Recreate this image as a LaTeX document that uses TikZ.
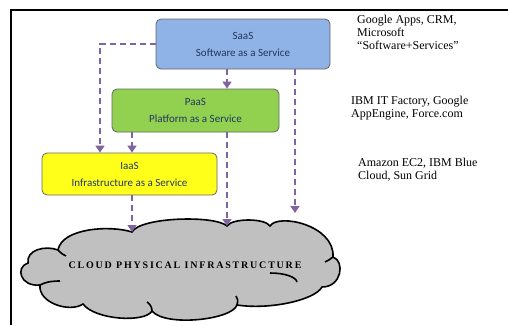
\documentclass[tikz,border=0pt]{standalone}
\usepackage{fontspec}
\setmainfont{Liberation Serif}
\newfontfamily\boxfont{Carlito}
\newfontfamily\cloudfont{Liberation Serif}[LetterSpace=18]
\usetikzlibrary{arrows.meta,calc}
\definecolor{saasblue}{HTML}{8FB3E6}
\definecolor{paasgreen}{HTML}{92D050}
\definecolor{iaasyellow}{HTML}{FFFF1A}
\definecolor{arrpurple}{HTML}{8064A2}
\definecolor{boxtext}{HTML}{24365F}
\definecolor{cloudgray}{HTML}{C0C0C0}
\begin{document}
\begin{tikzpicture}[x=1pt,y=1pt,
  layerbox/.style={draw=black!60, line width=0.8pt, rounded corners=5pt,
    align=center, font=\boxfont\fontsize{11}{17}\selectfont, text=boxtext, inner sep=0pt},
  arr/.style={draw=arrpurple, line width=1.6pt, dash pattern=on 6pt off 4pt,
    -{Triangle[width=9pt,length=7pt]}},
  sidetext/.style={anchor=north west, align=left, inner sep=0pt,
    font=\fontsize{12}{13}\selectfont},
  cloudline/.style={line width=1.6pt}
]
\useasboundingbox (0,0) rectangle (508,325);
% frame
\draw[line width=2pt] (508,315) -- (11,315) -- (11,0);

% boxes
\node[layerbox, fill=saasblue, minimum width=174pt, minimum height=50pt] (saas) at (243,281) {SaaS\\Software as a Service};
\node[layerbox, fill=paasgreen, minimum width=167pt, minimum height=43pt] (paas) at (195.5,214.5) {PaaS\\Platform as a Service};
\node[layerbox, fill=iaasyellow, minimum width=175pt, minimum height=42pt] (iaas) at (129.5,151) {IaaS\\Infrastructure as a Service};

% cloud
\coordinate (c1) at (58,75);
\coordinate (c2) at (132,93);
\coordinate (c3) at (227,99);
\coordinate (c4) at (270,99);
\coordinate (c5) at (333,68);
\coordinate (c6) at (322,38);
\coordinate (c7) at (237,20);
\coordinate (c8) at (152,14);
\coordinate (c9) at (83,21);
\coordinate (c10) at (40,40);
\coordinate (c11) at (28,62);
\draw[cloudline, fill=cloudgray]
  (c1) .. controls (62,97) and (110,100) .. (c2)
  .. controls (140,108) and (215,110) .. (c3)
  .. controls (232,107) and (265,107) .. (c4)
  .. controls (278,112) and (335,100) .. (c5)
  .. controls (345,64) and (342,38) .. (c6)
  .. controls (315,25) and (270,15) .. (c7)
  .. controls (232,5) and (165,-2) .. (c8)
  .. controls (145,2) and (95,5) .. (c9)
  .. controls (70,12) and (38,22) .. (c10)
  .. controls (20,38) and (15,58) .. (c11)
  .. controls (26,75) and (45,80) .. (c1) -- cycle;
\draw[cloudline] (c10) .. controls (48,44) and (55,44) .. (60,44);
\draw[cloudline] (c1) .. controls (61,72) and (63,70) .. (66,69);
\draw[cloudline] (270,52) .. controls (285,52) and (296,48) .. (297,43);
\draw[cloudline] (c8) .. controls (152,18) and (150,21) .. (147,23);
\draw[cloudline] (c7) .. controls (238,24) and (238,27) .. (236,29);
\draw[cloudline] (c5) .. controls (330,66) and (328,64) .. (325,63);
\node[font=\cloudfont\bfseries\fontsize{10}{12}\selectfont, inner sep=0pt] (cloudlabel) at (185,60) {CLOUD PHYSICAL INFRASTRUCTURE};

% connectors
\coordinate (a3end) at (295,112);
\draw[arr] (saas.west) -| ([xshift=-29.5pt]iaas.north);
\draw[arr] ([xshift=-16pt]saas.south) -- ([xshift=-16pt]saas.south |- paas.north);
\draw[arr] ([xshift=52pt]saas.south) -- (a3end);
\draw[arr] ([xshift=-63.5pt]paas.south) -- ([xshift=-63.5pt]paas.south |- iaas.north);
\draw[arr] ([xshift=31.5pt]paas.south) -- (c3);
\draw[arr] ([xshift=2.5pt]iaas.south) -- (c2);

% side texts
\node[sidetext] (t1) at (357,310) {Google Apps, CRM,\\Microsoft\\“Software+Services”};
\node[sidetext] (t2) at (351,229) {IBM IT Factory, Google\\AppEngine, Force.com};
\node[sidetext] (t3) at (358,167) {Amazon EC2, IBM Blue\\Cloud, Sun Grid};
\end{tikzpicture}
\end{document}
